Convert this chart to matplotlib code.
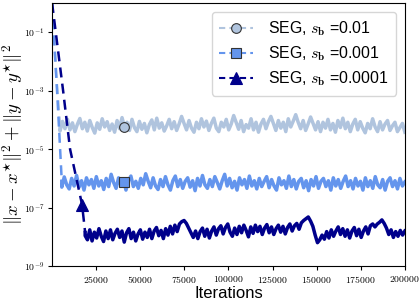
import numpy as np
import matplotlib
matplotlib.use("Agg")
import matplotlib.pyplot as plt
from matplotlib.lines import Line2D

plt.rcParams["font.family"] = ["Liberation Sans", "DejaVu Sans"]
plt.rcParams["mathtext.fontset"] = "cm"

# --- data (log10 of squared distance) ---
labels = [r"SEG, $s_\mathbf{b}$ =0.01", r"SEG, $s_\mathbf{b}$ =0.001", r"SEG, $s_\mathbf{b}$ =0.0001"]
colors = ["#b0c4de", "#6495ed", "#00008b"]
markers = ["o", "s", "^"]

# initial decrease (iteration, log10 value)
desc_x = [[0, 2500, 4500], [0, 3000, 5500], [0, 6250, 10200, 17000, 18750]]
desc_y = [[0.0, -2.6, -4.2], [0.0, -3.2, -6.1], [0.0, -3.0, -5.0, -6.9, -7.85]]

# plateau, evenly spaced from end of decrease to 200000
plat_light = [-4.38, -4.05, -4.30, -3.98, -4.34, -4.10, -4.40, -4.15, -3.95, -4.30, -4.08, -4.38, -4.02, -4.26,
              -4.45, -4.10, -4.32, -3.96, -4.24, -4.06, -4.36, -4.14, -4.42, -4.02, -4.30, -3.92, -4.24, -4.08,
              -4.36, -3.98, -4.26, -4.40, -4.05, -4.32, -4.12, -4.44, -4.16, -4.00, -4.34, -3.94, -4.28, -4.10,
              -4.38, -4.20, -3.98, -4.30, -4.06, -4.36, -4.14, -3.88, -4.12, -4.34, -4.02, -4.28, -4.42, -4.08,
              -4.30, -3.96, -4.24, -4.04, -4.36, -4.12, -3.94, -4.28, -4.40, -4.08, -4.24, -3.98, -4.34, -4.14,
              -3.85, -4.08, -4.32, -4.02, -4.40, -4.16, -4.28, -3.96, -4.34, -4.08, -4.42, -4.14, -3.98, -4.30,
              -4.06, -3.88, -4.12, -4.36, -4.02, -4.28, -4.08, -4.40, -3.96, -4.24, -4.04, -3.82, -4.08, -4.30,
              -4.02, -4.36, -4.14, -3.90, -4.12, -4.34, -4.06, -4.40, -4.08, -4.28, -3.98, -4.34, -4.12, -4.42,
              -4.02, -4.26, -3.94, -4.30, -4.08, -4.40, -4.14, -3.98, -4.34, -4.06, -4.28, -4.44, -4.12, -4.30,
              -3.96, -4.24, -4.40, -4.06, -4.34, -4.14, -4.02, -4.36, -4.20, -4.08, -4.40, -4.26, -4.12, -4.42]
plat_mid = [-6.30, -5.95, -6.22, -6.36, -6.00, -6.26, -5.90, -6.30, -6.08, -6.40, -5.98, -6.22, -6.04, -6.34,
            -5.94, -6.26, -6.08, -6.38, -6.00, -6.28, -5.86, -6.14, -6.34, -5.98, -6.26, -6.04, -6.40, -6.08,
            -5.92, -6.28, -6.10, -6.34, -6.00, -6.22, -5.84, -6.10, -6.32, -5.98, -6.26, -6.38, -6.04, -6.28,
            -5.94, -6.22, -6.40, -6.08, -5.92, -6.28, -6.04, -6.34, -6.10, -5.98, -6.30, -6.08, -6.42, -6.00,
            -6.26, -5.90, -6.22, -6.34, -6.04, -6.28, -5.94, -6.14, -6.36, -6.08, -5.86, -6.26, -6.00, -6.32,
            -6.10, -6.40, -5.98, -6.22, -6.04, -6.34, -5.92, -6.26, -6.08, -6.36, -6.00, -6.28, -6.10, -5.94,
            -6.32, -6.04, -6.26, -6.40, -5.98, -6.22, -6.08, -6.34, -5.92, -6.28, -6.04, -6.36, -6.10, -6.00,
            -6.32, -6.08, -6.42, -6.04, -6.26, -5.94, -6.34, -6.10, -6.00, -6.28, -6.08, -6.40, -5.98, -6.26,
            -6.04, -6.34, -6.10, -5.92, -6.28, -6.08, -6.36, -6.00, -6.26, -6.10, -6.40, -5.98, -6.28, -6.08,
            -6.34, -5.94, -6.22, -6.32, -6.04, -6.40, -6.10, -5.98, -6.28, -6.08, -6.36, -6.00, -6.26, -6.12]
plat_dark = [-7.96, -8.10, -7.76, -8.14, -7.84, -8.04, -7.72, -7.98, -8.16, -7.80, -8.06, -7.76, -8.10, -7.88,
             -7.74, -8.02, -7.80, -8.18, -7.86, -7.72, -8.06, -7.84, -8.14, -7.90, -7.76, -8.08, -7.84, -8.02,
             -7.74, -8.06, -7.80, -7.68, -7.96, -7.78, -8.06, -7.72, -7.94, -7.64, -7.90, -7.60, -7.82, -7.56,
             -7.48, -7.44, -7.54, -7.70, -7.86, -8.02, -7.80, -8.06, -7.82, -7.70, -7.98, -7.74, -8.04, -7.80,
             -7.66, -7.94, -7.72, -7.62, -7.90, -7.68, -7.56, -7.84, -7.98, -7.70, -7.92, -7.64, -7.86, -7.60,
             -7.78, -8.00, -7.66, -7.88, -7.60, -7.82, -7.64, -7.92, -7.70, -7.58, -7.86, -7.66, -7.92, -7.72,
             -7.60, -7.84, -7.64, -7.90, -7.68, -7.56, -7.80, -7.62, -7.54, -7.74, -7.52, -7.44, -7.38, -7.32,
             -7.46, -7.64, -7.94, -8.20, -8.10, -7.94, -8.08, -7.82, -8.04, -7.76, -7.98, -7.80, -7.66, -7.92,
             -7.72, -7.98, -7.76, -8.04, -7.80, -7.68, -7.96, -7.74, -8.02, -7.80, -7.66, -7.90, -7.62, -7.56,
             -7.66, -7.56, -7.50, -7.42, -7.54, -7.70, -7.92, -7.76, -8.02, -7.82, -7.98, -7.78, -7.94, -7.80]
plateaus = [plat_light, plat_mid, plat_dark]

mark_x = [41000, 41000, 17000]
mark_y = [-4.25, -6.12, -6.9]

fig = plt.figure(figsize=(4.2, 3.01), dpi=100)
ax = fig.add_axes([0.124, 0.116, 0.840, 0.874])

for i in range(3):
    dx = desc_x[i]
    ax.plot(dx, 10.0 ** np.array(desc_y[i]), "--", color=colors[i], lw=1.8, dashes=(4, 2.5))
    px = np.linspace(dx[-1], 200000, len(plateaus[i]))
    py = 10.0 ** np.array(plateaus[i])
    ax.plot(np.r_[dx[-1], px], np.r_[10.0 ** desc_y[i][-1], py], "-", color=colors[i], lw=2.5)
    ec = "#00008b" if i == 2 else "#333333"
    ax.plot([mark_x[i]], [10.0 ** mark_y[i]], markers[i], color=colors[i], ms=7 if i < 2 else 8,
            mec=ec, mew=0.8, zorder=5)

ax.set_yscale("log")
ax.set_xlim(0, 200000)
ax.set_ylim(1e-9, 1e0)
ax.set_yticks([1e-9, 1e-7, 1e-5, 1e-3, 1e-1])
ax.set_yticklabels([r"$10^{-9}$", r"$10^{-7}$", r"$10^{-5}$", r"$10^{-3}$", r"$10^{-1}$"])
ax.minorticks_off()
xt = [25000, 50000, 75000, 100000, 125000, 150000, 175000, 200000]
ax.set_xticks(xt)
ax.set_xticklabels([r"$%d$" % v for v in xt])
ax.tick_params(labelsize=7, length=3, width=0.8, pad=2.5)
for s in ax.spines.values():
    s.set_linewidth(0.8)

ax.set_xlabel("Iterations", fontsize=12, labelpad=1)
ax.set_ylabel(r"$\|x-x^{\star}\|^2+\|y-y^{\star}\|^2$", fontsize=13.5)
ax.yaxis.set_label_coords(-0.078, 0.5)

handles = [Line2D([], [], color=colors[i], ls="--", dashes=(3, 2), lw=1.5, marker=markers[i],
                  ms=7 if i < 2 else 8, mfc=colors[i],
                  mec="#00008b" if i == 2 else "#333333", mew=0.8) for i in range(3)]
ax.legend(handles, labels, loc="upper right", fontsize=11.4, handlelength=2.1, handletextpad=1.0,
          borderpad=0.45, labelspacing=0.42, borderaxespad=0, bbox_to_anchor=(0.975, 0.966))

fig.savefig("out.png", dpi=100)
